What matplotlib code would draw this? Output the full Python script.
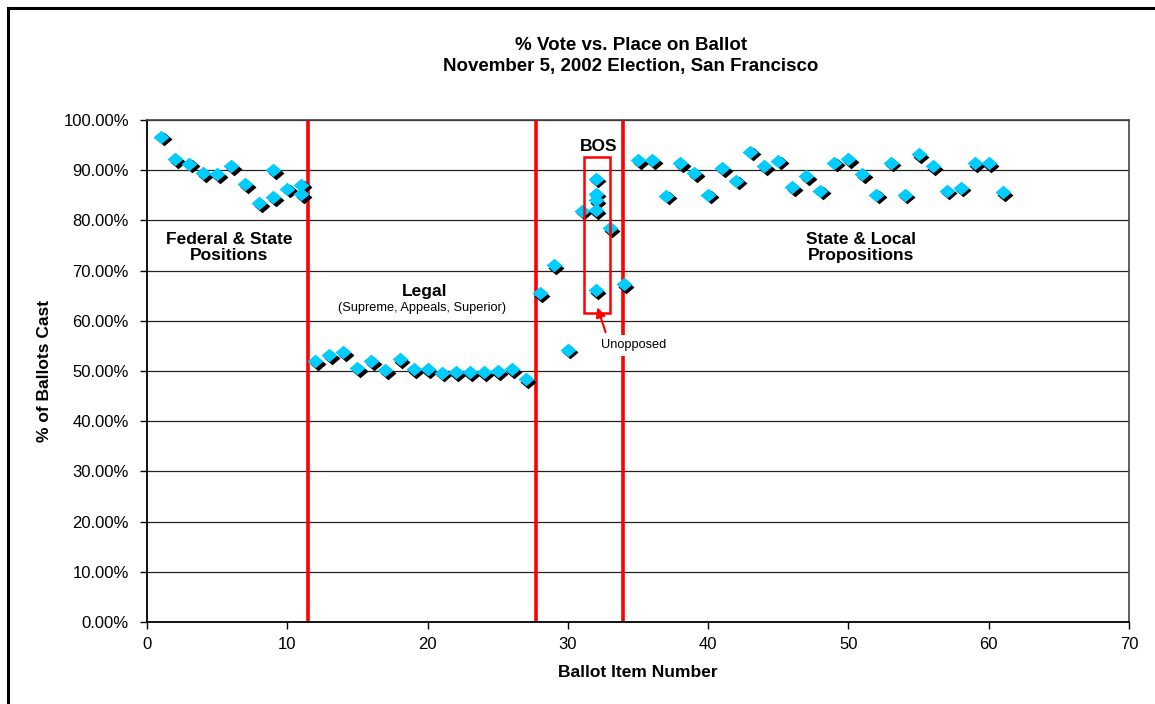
import matplotlib.pyplot as plt
import matplotlib.transforms as mtransforms
from matplotlib.patches import Rectangle
from matplotlib.path import Path

plt.rcParams['font.family'] = ['Liberation Sans', 'DejaVu Sans']

# ballot item number / % of ballots cast, by section
fed_items = [1, 2, 3, 4, 5, 6, 7, 8, 9, 9, 10, 11, 11]
fed_pct = [96.7, 92.2, 91.3, 89.4, 89.2, 90.8, 87.2, 83.4, 90.0, 84.6, 86.3, 87.1, 85.2]

legal_items = list(range(12, 28))
legal_pct = [51.9, 53.1, 53.7, 50.5, 51.9, 50.1, 52.3, 50.3, 50.3, 49.7, 49.8, 49.8,
             49.8, 50.0, 50.3, 48.4]

bos_items = [28, 29, 30, 31, 32, 32, 32, 32, 32, 33, 34]
bos_pct = [65.5, 71.1, 54.2, 81.9, 88.3, 85.3, 84.0, 82.0, 66.1, 78.4, 67.3]

prop_items = list(range(35, 62))
prop_pct = [92.0, 92.0, 84.9, 91.4, 89.4, 85.1, 90.4, 87.9, 93.7, 90.8, 91.9, 86.6,
            88.8, 85.9, 91.5, 92.2, 89.2, 85.1, 91.5, 85.1, 93.2, 90.8, 85.9, 86.5,
            91.4, 91.4, 85.6]

section_breaks = [11.5, 27.7, 33.9]

x_all = fed_items + legal_items + bos_items + prop_items
y_all = fed_pct + legal_pct + bos_pct + prop_pct

fig = plt.figure(figsize=(11.55, 7.04), dpi=100)
ax = fig.add_axes([147 / 1155, 82 / 704, 982 / 1155, 502 / 704])

# outer chart border (only left and top visible in frame)
fig.patches.append(Rectangle((8 / 1155, -0.2), 1.2, 1.2 - 8 / 704,
                             transform=fig.transFigure, fill=False,
                             edgecolor='black', linewidth=2.2, clip_on=False))

diamond = Path([(-1, 0), (0, 0.85), (1, 0), (0, -0.85), (-1, 0)],
               [Path.MOVETO, Path.LINETO, Path.LINETO, Path.LINETO, Path.CLOSEPOLY])

shadow = ax.transData + mtransforms.ScaledTranslation(0.025, -0.025, fig.dpi_scale_trans)
ax.plot(x_all, y_all, linestyle='none', marker=diamond, markersize=11.5,
        color='black', markeredgewidth=0, transform=shadow, zorder=3)
ax.plot(x_all, y_all, linestyle='none', marker=diamond, markersize=11.5,
        color='#00CCFF', markeredgewidth=0, zorder=4)

for xb in section_breaks:
    ax.axvline(xb, ymin=0.004, ymax=1, color='#FF0000', linewidth=2.6, zorder=2)

# BOS box and arrow
ax.add_patch(Rectangle((31.15, 61.6), 1.85, 31.0, fill=False, edgecolor='#FF0000',
                       linewidth=1.8, zorder=5))
ax.annotate('', xy=(32.05, 63.2), xytext=(32.75, 57.2),
            arrowprops=dict(arrowstyle='-|>', color='#FF0000', lw=1.5,
                            mutation_scale=14), zorder=6)
ax.text(34.7, 55.1, 'Unopposed', fontsize=9.2, ha='center', va='center', zorder=6,
        bbox=dict(facecolor='white', edgecolor='none', pad=3.5))

bold = dict(fontsize=12.5, fontweight='bold', ha='center', va='center', zorder=6)
ax.text(5.85, 74.6, 'Federal & State\nPositions', linespacing=1.15, **bold)
ax.text(19.8, 65.9, 'Legal', **bold)
ax.text(19.6, 62.5, '(Supreme, Appeals, Superior)', fontsize=9.2, ha='center', va='center')
ax.text(32.2, 94.8, 'BOS', **bold)
ax.text(50.9, 74.6, 'State & Local\nPropositions', linespacing=1.15, **bold)

fig.text(631 / 1155, 1 - 56 / 704, '% Vote vs. Place on Ballot\nNovember 5, 2002 Election, San Francisco',
         ha='center', va='center', fontsize=13.5, fontweight='bold', linespacing=1.25)

ax.set_xlim(0, 70)
ax.set_ylim(0, 100)
ax.set_xticks(range(0, 71, 10))
ax.set_yticks(range(0, 101, 10))
ax.set_yticklabels([f'{v:.2f}%' for v in range(0, 101, 10)])
ax.tick_params(axis='both', labelsize=12, direction='out', length=5, width=1, color='black')
ax.tick_params(axis='y', pad=8)
ax.tick_params(axis='x', pad=6)
ax.yaxis.grid(True, color='#222222', linewidth=0.9)
ax.set_axisbelow(True)
for side in ['left', 'bottom']:
    ax.spines[side].set_linewidth(1.3)
for side in ['top', 'right']:
    ax.spines[side].set_color('#444444')
    ax.spines[side].set_linewidth(1.2)

ax.set_xlabel('Ballot Item Number', fontsize=12.5, fontweight='bold', labelpad=9)
ax.set_ylabel('% of Ballots Cast', fontsize=12.5, fontweight='bold', labelpad=8)

fig.savefig('out.png', dpi=100)
